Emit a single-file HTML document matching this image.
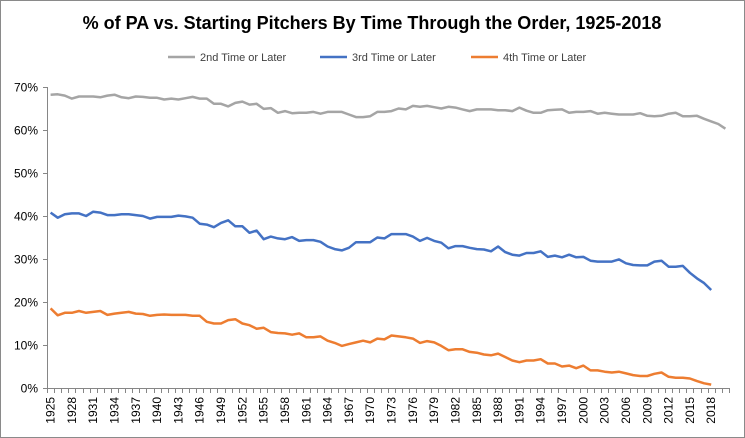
<!DOCTYPE html>
<html><head><meta charset="utf-8"><style>
html,body{margin:0;padding:0;background:#fff}
svg{display:block;font-family:"Liberation Sans",Arial,sans-serif}
</style></head><body>
<svg id="s" width="745" height="438" viewBox="0 0 745 438" xmlns="http://www.w3.org/2000/svg">
<rect x="0.5" y="0.5" width="744" height="437" fill="#fff" stroke="#8a8a8a"/>
<text x="372" y="29" text-anchor="middle" font-size="18" font-weight="bold" fill="#000">% of PA vs. Starting Pitchers By Time Through the Order, 1925-2018</text>
<g font-size="11" fill="#404040">
<line x1="168" y1="57" x2="195" y2="57" stroke="#a5a5a5" stroke-width="2.5"/><text x="200" y="61">2nd Time or Later</text>
<line x1="320" y1="57" x2="347" y2="57" stroke="#4472c4" stroke-width="2.5"/><text x="352" y="61">3rd Time or Later</text>
<line x1="471" y1="57" x2="498" y2="57" stroke="#ed7d31" stroke-width="2.5"/><text x="503" y="61">4th Time or Later</text>
</g>
<g id="ax" stroke="#868686" stroke-width="1" fill="none"></g>
<g id="lab" font-size="12" fill="#000"></g>
<g id="ser" fill="none" stroke-width="2.5" stroke-linejoin="round"></g>
</svg>
<script>
var g=[68.2,68.3,68.0,67.3,67.8,67.8,67.8,67.6,68.0,68.2,67.6,67.4,67.8,67.7,67.5,67.5,67.1,67.3,67.1,67.4,67.7,67.3,67.3,66.1,66.1,65.5,66.3,66.6,65.9,66.1,64.9,65.1,64.0,64.4,63.9,64.0,64.0,64.2,63.8,64.2,64.2,64.2,63.6,63.0,63.0,63.2,64.2,64.2,64.4,65.0,64.8,65.6,65.4,65.6,65.3,65.0,65.4,65.2,64.8,64.4,64.8,64.8,64.8,64.6,64.6,64.4,65.2,64.5,64.0,64.0,64.6,64.7,64.8,64.0,64.2,64.2,64.4,63.8,64.0,63.8,63.6,63.6,63.6,63.9,63.3,63.2,63.3,63.8,64.0,63.2,63.2,63.3,62.6,62.0,61.4,60.3];
var b=[40.8,39.6,40.4,40.6,40.6,40.0,41.0,40.8,40.2,40.2,40.4,40.4,40.2,40.0,39.4,39.8,39.8,39.8,40.1,39.9,39.6,38.2,38.0,37.4,38.4,39.0,37.6,37.6,36.1,36.6,34.6,35.2,34.8,34.6,35.1,34.2,34.4,34.4,34.0,32.9,32.3,32.0,32.6,33.9,33.9,33.9,35.0,34.8,35.8,35.8,35.8,35.2,34.2,34.9,34.2,33.8,32.5,33.0,33.0,32.6,32.3,32.2,31.8,32.9,31.6,31.0,30.8,31.4,31.4,31.8,30.5,30.8,30.4,31.0,30.4,30.5,29.6,29.4,29.4,29.4,29.9,29.0,28.6,28.5,28.5,29.4,29.6,28.2,28.2,28.4,26.8,25.5,24.4,22.8];
var o=[18.5,16.9,17.5,17.5,17.9,17.5,17.7,17.9,17.0,17.3,17.5,17.7,17.3,17.2,16.8,17.0,17.1,17.0,17.0,17.0,16.8,16.8,15.4,15.0,15.0,15.8,16.0,15.0,14.6,13.8,14.0,13.0,12.8,12.7,12.4,12.7,11.8,11.8,12.0,11.0,10.5,9.8,10.2,10.6,11.0,10.6,11.5,11.3,12.2,12.0,11.8,11.5,10.5,10.9,10.6,9.8,8.8,9.0,9.0,8.4,8.2,7.8,7.6,8.0,7.2,6.4,6.0,6.4,6.4,6.7,5.7,5.7,5.0,5.2,4.6,5.2,4.1,4.1,3.8,3.6,3.8,3.4,3.0,2.8,2.8,3.3,3.6,2.6,2.4,2.4,2.2,1.6,1.1,0.8];
var NS="http://www.w3.org/2000/svg",X0=47,W=7.104,Y0=388,PY=4.3;
function el(p,t,a,txt){var e=document.createElementNS(NS,t);for(var k in a)e.setAttribute(k,a[k]);if(txt)e.textContent=txt;document.getElementById(p).appendChild(e);}
el('ax','line',{x1:X0+.5,y1:87,x2:X0+.5,y2:Y0});
el('ax','line',{x1:X0,y1:Y0+.5,x2:X0+96*W,y2:Y0+.5});
for(var i=0;i<=7;i++){var y=Math.round(Y0-i*10*PY)+.5;el('ax','line',{x1:43,y1:y,x2:X0,y2:y});el('lab','text',{x:38,y:y+4,'text-anchor':'end'},(i*10)+'%');}
for(var i=0;i<=96;i++){var x=Math.round(X0+i*W)+.5;el('ax','line',{x1:x,y1:Y0,x2:x,y2:Y0+5});}
for(var yr=1925;yr<=2018;yr+=3){var i=yr-1925,cx=X0+(i+.5)*W;el('lab','text',{x:0,y:0,transform:'translate('+(cx+4)+',397) rotate(-90)','text-anchor':'end'},String(yr));}
function line(d,c){var p=d.map(function(v,i){return (X0+(i+.5)*W).toFixed(1)+','+(Y0-v*PY).toFixed(1)}).join(' ');el('ser','polyline',{points:p,stroke:c});}
line(g,'#a5a5a5');line(b,'#4472c4');line(o,'#ed7d31');
</script>
</body></html>
